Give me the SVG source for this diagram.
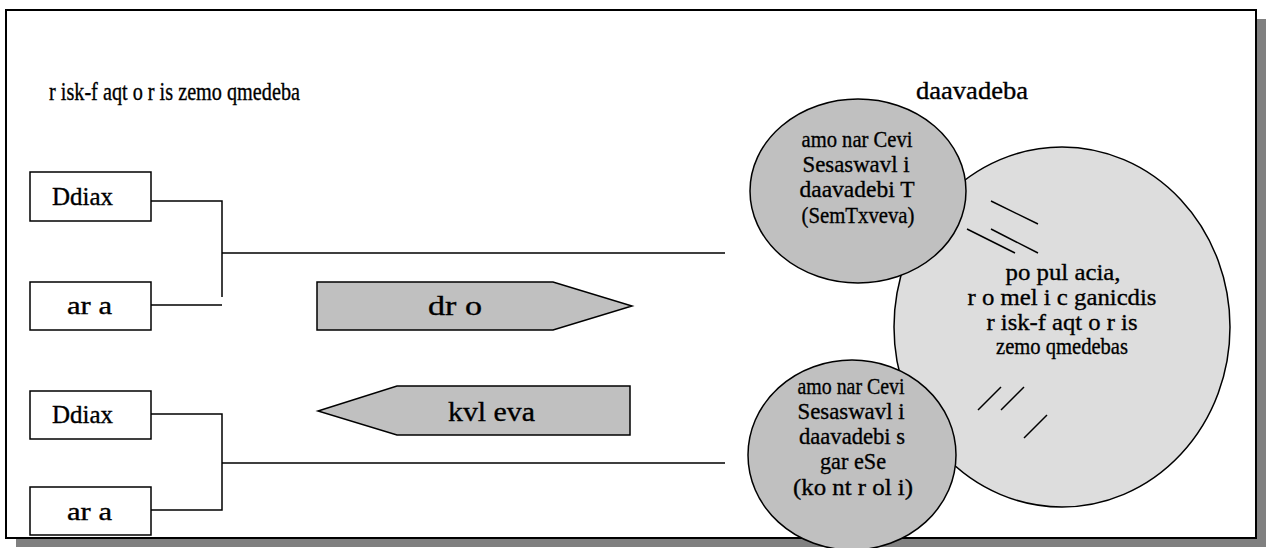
<svg xmlns="http://www.w3.org/2000/svg" width="1268" height="548" viewBox="0 0 1268 548">
<style>
text{font-family:"Liberation Serif","Times New Roman",serif;fill:#000;stroke:#000;stroke-width:0.35}
.t{font-size:25px}
.c{font-size:24px;text-anchor:middle}
.a{font-size:27px}
.box{fill:#fff;stroke:#000;stroke-width:1.5}
.ln{stroke:#000;stroke-width:1.5;fill:none}
.arr{fill:#c0c0c0;stroke:#000;stroke-width:1.5}
.sm{fill:#c0c0c0;stroke:#000;stroke-width:1.5}
.big{fill:#dddddd;stroke:#000;stroke-width:1.5}
</style>
<rect x="0" y="0" width="1268" height="548" fill="#fff"/>
<rect x="16" y="19" width="1250" height="528" fill="#808080"/>
<rect x="6" y="10" width="1250" height="528" fill="#fff" stroke="#000" stroke-width="2"/>
<text class="t" x="49" y="100" textLength="251" lengthAdjust="spacingAndGlyphs">r isk-f aqt o r is zemo qmedeba</text>
<text class="t" x="916" y="99" textLength="112" lengthAdjust="spacingAndGlyphs">daavadeba</text>
<g id="connectors">
<path class="ln" d="M151,201 H222 V297 M151,305 H222 M222,253 H725"/>
<path class="ln" d="M151,414 H222 V510 H151 M222,463 H725"/>
</g>
<g id="box-ddiax-1"><rect class="box" x="30" y="172" width="121" height="49"/><text class="t" x="52" y="205" textLength="61" lengthAdjust="spacingAndGlyphs">Ddiax</text></g>
<g id="box-ara-1"><rect class="box" x="30" y="282" width="121" height="48"/><text class="t" x="67" y="314" textLength="45" lengthAdjust="spacingAndGlyphs">ar a</text></g>
<g id="box-ddiax-2"><rect class="box" x="30" y="391" width="121" height="48"/><text class="t" x="52" y="423" textLength="61" lengthAdjust="spacingAndGlyphs">Ddiax</text></g>
<g id="box-ara-2"><rect class="box" x="30" y="487" width="121" height="48"/><text class="t" x="67" y="520" textLength="45" lengthAdjust="spacingAndGlyphs">ar a</text></g>
<g id="arrow-dro"><path class="arr" d="M317,282 H553 L632,306 L553,330 H317 Z"/><text class="a" x="428" y="315" textLength="54" lengthAdjust="spacingAndGlyphs">dr o</text></g>
<g id="arrow-kvleva"><path class="arr" d="M630,386 H397 L318,411 L397,435 H630 Z"/><text class="a" x="448" y="421" textLength="87" lengthAdjust="spacingAndGlyphs">kvl eva</text></g>
<g id="population">
<ellipse class="big" cx="1062" cy="327" rx="168" ry="180"/>
<path class="ln" d="M991,201 L1038,224 M991,229 L1038,253 M967,229 L1015,253 M978,410 L1001,387 M1001,410 L1024,387 M1024,438 L1047,415"/>
<text class="c" x="1063" y="280" textLength="115" lengthAdjust="spacingAndGlyphs">po pul acia,</text>
<text class="c" x="1062" y="305" textLength="189" lengthAdjust="spacingAndGlyphs">r o mel i c ganicdis</text>
<text class="c" x="1062" y="330" textLength="151" lengthAdjust="spacingAndGlyphs">r isk-f aqt o r is</text>
<text class="c" x="1062" y="354" textLength="132" lengthAdjust="spacingAndGlyphs">zemo qmedebas</text>
</g>
<g id="cases">
<ellipse class="sm" cx="858" cy="191" rx="108" ry="92"/>
<text class="c" x="857" y="147" textLength="111" lengthAdjust="spacingAndGlyphs">amo nar Cevi</text>
<text class="c" x="856" y="172" textLength="107" lengthAdjust="spacingAndGlyphs">Sesaswavl i</text>
<text class="c" x="857" y="197" textLength="115" lengthAdjust="spacingAndGlyphs">daavadebi T</text>
<text class="c" x="858" y="223" textLength="113" lengthAdjust="spacingAndGlyphs">(SemTxveva)</text>
</g>
<g id="controls">
<ellipse class="sm" cx="852" cy="455" rx="104" ry="95"/>
<text class="c" x="851" y="394" textLength="107" lengthAdjust="spacingAndGlyphs">amo nar Cevi</text>
<text class="c" x="851" y="419" textLength="107" lengthAdjust="spacingAndGlyphs">Sesaswavl i</text>
<text class="c" x="852" y="444" textLength="106" lengthAdjust="spacingAndGlyphs">daavadebi s</text>
<text class="c" x="853" y="469" textLength="66" lengthAdjust="spacingAndGlyphs">gar eSe</text>
<text class="c" x="853" y="495" textLength="120" lengthAdjust="spacingAndGlyphs">(ko nt r ol i)</text>
</g>
</svg>
